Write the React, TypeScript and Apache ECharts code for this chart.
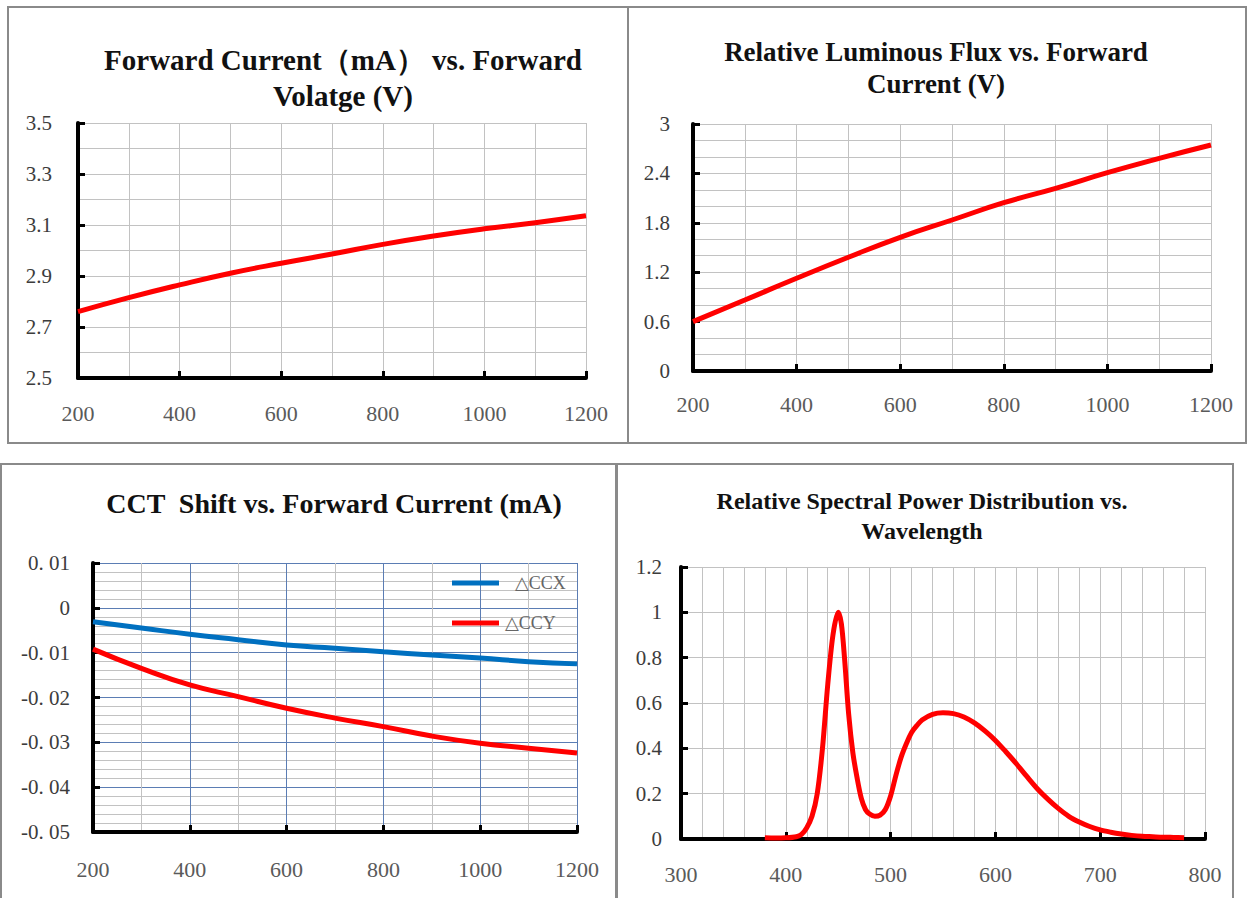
import React, { useEffect, useRef } from 'react';
import * as echarts from 'echarts';

// ---------- data ----------
const current = [200, 300, 400, 500, 600, 700, 800, 900, 1000, 1100, 1200];
const forwardVoltage = [2.76, 2.815, 2.865, 2.911, 2.95, 2.986, 3.024, 3.057, 3.085, 3.109, 3.136];
const relativeFlux = [0.6, 0.862, 1.126, 1.381, 1.624, 1.834, 2.044, 2.219, 2.409, 2.583, 2.745];
const deltaCCX = [-0.0031, -0.0045, -0.0059, -0.0071, -0.0083, -0.009, -0.0098, -0.0105, -0.0112, -0.012, -0.0125];
const deltaCCY = [-0.0092, -0.0135, -0.0172, -0.0198, -0.0224, -0.0246, -0.0265, -0.0286, -0.0302, -0.0313, -0.0324];
const wavelength = [380, 390, 400, 410, 415, 420, 425, 430, 435, 440, 445, 450, 453, 456, 460, 464, 468, 472, 476, 480, 485, 490, 495, 500, 505, 510, 515, 520, 525, 530, 540, 550, 560, 570, 580, 590, 600, 610, 620, 630, 640, 650, 660, 670, 680, 690, 700, 710, 720, 730, 740, 750, 760, 770, 780];
const spectralPower = [0.005, 0.004, 0.005, 0.01, 0.02, 0.05, 0.1, 0.2, 0.4, 0.68, 0.9, 1.0, 0.95, 0.8, 0.55, 0.38, 0.27, 0.18, 0.13, 0.11, 0.1, 0.105, 0.13, 0.19, 0.28, 0.36, 0.42, 0.47, 0.5, 0.525, 0.55, 0.557, 0.553, 0.538, 0.512, 0.477, 0.435, 0.385, 0.332, 0.276, 0.222, 0.176, 0.135, 0.1, 0.075, 0.055, 0.04, 0.03, 0.022, 0.016, 0.012, 0.01, 0.008, 0.007, 0.006];

// tick labels
const currentTicks = [200, 400, 600, 800, 1000, 1200];
const voltageTicks = [2.5, 2.7, 2.9, 3.1, 3.3, 3.5];
const fluxTicks = [0, 0.6, 1.2, 1.8, 2.4, 3];
const cctTicks = [-0.05, -0.04, -0.03, -0.02, -0.01, 0, 0.01];
const wavelengthTicks = [300, 400, 500, 600, 700, 800];
const spdTicks = [0, 0.2, 0.4, 0.6, 0.8, 1, 1.2];

const titles = [
  'Forward Current\uFF08mA\uFF09 vs. Forward\nVolatge (V)',
  'Relative Luminous Flux vs. Forward\nCurrent (V)',
  'CCT  Shift vs. Forward Current (mA)',
  'Relative Spectral Power Distribution vs.\nWavelength',
];
const legendNames = ['\u25B3CCX', '\u25B3CCY'];

// ---------- helpers ----------
const SERIF = '"Liberation Serif", "Times New Roman", "DejaVu Serif", serif';
const near = (list: number[], v: number) => list.some((t) => Math.abs(t - v) < 1e-9);
const zip = (xs: number[], ys: number[]) => xs.map((x, i) => [x, ys[i]]);

type AxisCfg = {
  min: number;
  max: number;
  interval: number;
  labels: number[];
  format?: (v: number) => string;
  margin: number;
  splitColor: string | string[];
};

function axisPair(dim: 'x' | 'y', grid: number, cfg: AxisCfg) {
  const pos = dim === 'x' ? 'bottom' : 'left';
  const fmt = cfg.format || ((v: number) => String(v));
  const main = {
    type: 'value',
    gridIndex: grid,
    position: pos,
    min: cfg.min,
    max: cfg.max,
    interval: cfg.interval,
    axisLine: { show: true, onZero: false, lineStyle: { color: '#000', width: 4 } },
    axisTick: { show: false },
    axisLabel: {
      show: true,
      margin: cfg.margin,
      color: dim === 'x' ? '#5a5a5a' : '#3c3c3c',
      fontSize: dim === 'x' ? 22 : 21,
      fontFamily: SERIF,
      showMinLabel: true,
      showMaxLabel: true,
      hideOverlap: false,
      formatter: (v: number) => (near(cfg.labels, v) ? fmt(v) : ''),
    },
    splitLine: { show: true, lineStyle: { color: cfg.splitColor, width: 1 } },
  };
  const ticks = {
    type: 'value',
    gridIndex: grid,
    position: pos,
    min: cfg.min,
    max: cfg.max,
    axisLine: { show: false, onZero: false },
    splitLine: { show: false },
    axisLabel: { show: false },
    axisTick: {
      show: true,
      inside: true,
      length: 7,
      customValues: cfg.labels,
      lineStyle: { color: '#000', width: 3 },
    },
  };
  return [main, ticks];
}

const GRAY = '#c2c2c2';
const BLUE_GRID = '#5b7db4';

const cctFormat = (v: number) => {
  if (Math.abs(v) < 1e-12) return '0';
  const n = Math.round(Math.abs(v) * 100);
  return (v < 0 ? '-' : '') + '0. ' + String(n).padStart(2, '0');
};

const xAxes = [
  ...axisPair('x', 0, { min: 200, max: 1200, interval: 100, labels: currentTicks, margin: 24, splitColor: GRAY }),
  ...axisPair('x', 1, { min: 200, max: 1200, interval: 100, labels: currentTicks, margin: 22, splitColor: GRAY }),
  ...axisPair('x', 2, { min: 200, max: 1200, interval: 100, labels: currentTicks, margin: 26, splitColor: [BLUE_GRID, GRAY] }),
  ...axisPair('x', 3, { min: 300, max: 800, interval: 20, labels: wavelengthTicks, margin: 24, splitColor: GRAY }),
];
const yAxes = [
  ...axisPair('y', 0, { min: 2.5, max: 3.5, interval: 0.1, labels: voltageTicks, margin: 26, splitColor: GRAY, format: (v) => v.toFixed(1) }),
  ...axisPair('y', 1, { min: 0, max: 3, interval: 0.2, labels: fluxTicks, margin: 23, splitColor: GRAY }),
  ...axisPair('y', 2, {
    min: -0.05,
    max: 0.01,
    interval: 0.002,
    labels: cctTicks,
    margin: 23,
    splitColor: [BLUE_GRID, GRAY, GRAY, GRAY, GRAY],
    format: cctFormat,
  }),
  ...axisPair('y', 3, { min: 0, max: 1.2, interval: 0.2, labels: spdTicks, margin: 19, splitColor: GRAY }),
];

const lineSeries = (name: string, grid: number, data: number[][], color: string, smooth: number) => ({
  type: 'line',
  name,
  xAxisIndex: grid * 2,
  yAxisIndex: grid * 2,
  data,
  showSymbol: false,
  symbol: 'none',
  smooth,
  lineStyle: { color, width: 5 },
  itemStyle: { color },
  z: 5,
});

const titleStyle = (size: number, lh: number) => ({
  fontFamily: SERIF,
  fontWeight: 'bold',
  fontSize: size,
  lineHeight: lh,
  color: '#111',
});

const border = (x: number, y: number, w: number, h: number) => ({
  type: 'rect',
  shape: { x, y, width: w, height: h },
  style: { fill: 'none', stroke: '#8a8a8a', lineWidth: 2 },
  silent: true,
  z: 100,
});

const option: any = {
  animation: false,
  backgroundColor: '#fff',
  title: [
    { text: titles[0], left: 343, top: 42, textAlign: 'center', padding: 0, textStyle: titleStyle(29, 36) },
    { text: titles[1], left: 936, top: 36, textAlign: 'center', padding: 0, textStyle: titleStyle(27, 32) },
    { text: titles[2], left: 334, top: 486, textAlign: 'center', padding: 0, textStyle: titleStyle(28, 34) },
    { text: titles[3], left: 922, top: 486, textAlign: 'center', padding: 0, textStyle: titleStyle(24, 30) },
  ],
  grid: [
    { left: 78, top: 123, width: 508, height: 255, outerBoundsMode: 'none' },
    { left: 693, top: 124, width: 518, height: 247, outerBoundsMode: 'none' },
    { left: 93, top: 563, width: 484, height: 269, outerBoundsMode: 'none' },
    { left: 681, top: 567, width: 524, height: 272, outerBoundsMode: 'none' },
  ],
  xAxis: xAxes,
  yAxis: yAxes,
  legend: {
    data: [
      { name: legendNames[0], textStyle: { padding: [0, 0, 0, 11] } },
      { name: legendNames[1], textStyle: { padding: [0, 0, 0, 1] } },
    ],
    orient: 'vertical',
    left: 452,
    top: 574,
    padding: 0,
    icon: 'rect',
    itemWidth: 47,
    itemHeight: 5,
    itemGap: 22,
    selectedMode: false,
    textStyle: { fontFamily: SERIF, fontSize: 18, color: '#666' },
  },
  graphic: [
    border(8, 7, 620, 436),
    border(628, 7, 618, 436),
    border(1, 464, 615, 440),
    border(617, 464, 616, 440),
  ],
  series: [
    lineSeries('Forward Voltage', 0, zip(current, forwardVoltage), '#ff0000', 0.5),
    lineSeries('Relative Luminous Flux', 1, zip(current, relativeFlux), '#ff0000', 0.5),
    lineSeries(legendNames[0], 2, zip(current, deltaCCX), '#0070c0', 0.5),
    lineSeries(legendNames[1], 2, zip(current, deltaCCY), '#ff0000', 0.5),
    lineSeries('Relative Spectral Power', 3, zip(wavelength, spectralPower), '#ff0000', 0.3),
  ],
};

export default function App() {
  const ref = useRef<HTMLDivElement>(null);
  useEffect(() => {
    if (!ref.current) return;
    const chart = echarts.init(ref.current, null, { renderer: 'svg' });
    chart.setOption(option);
    return () => chart.dispose();
  }, []);
  return (
    <div
      ref={ref}
      style={{ position: 'absolute', left: 0, top: 0, width: 1247, height: 898, background: '#fff' }}
    />
  );
}
